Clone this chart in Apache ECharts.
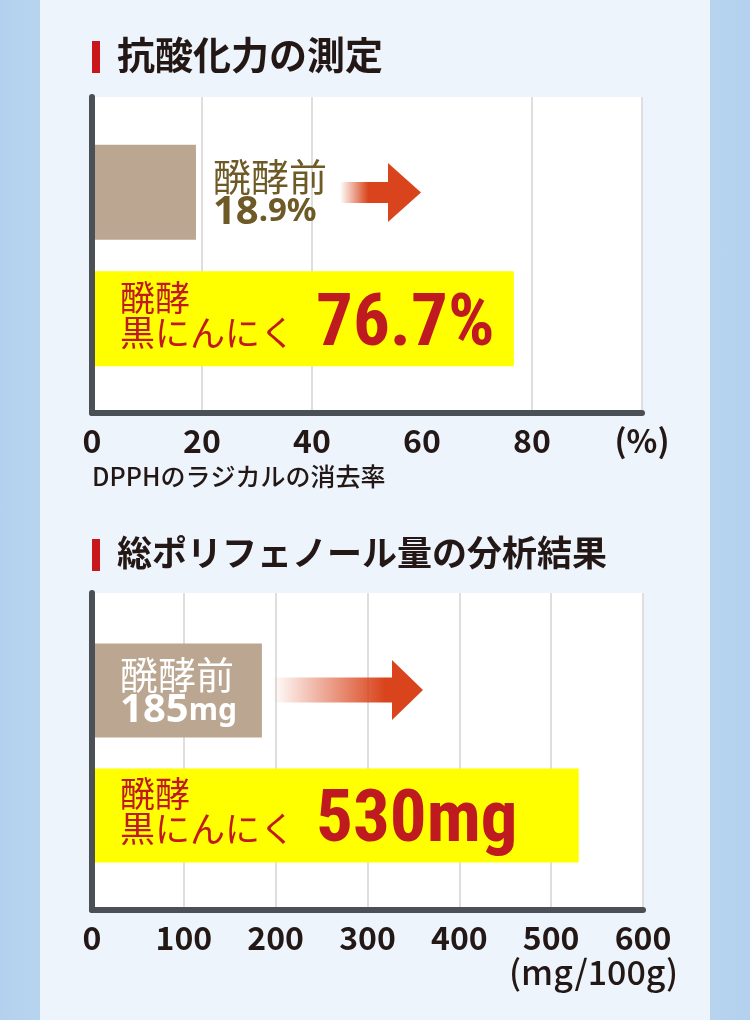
<!DOCTYPE html>
<html>
<head>
<meta charset="utf-8">
<script src="https://cdn.jsdelivr.net/npm/echarts@6/dist/echarts.min.js"></script>
<style>
  html, body { margin: 0; padding: 0; }
  body {
    background: linear-gradient(to right, #b3d1ee 0, #b7d4ef 40px, #eef4fb 40px, #eef4fb 710px, #b7d4ef 710px, #b3d1ee 750px);
  }
  #main { width: 750px; height: 1020px; }
</style>
</head>
<body>
<div id="main"></div>
<script>
// 抗酸化力 (DPPH radical scavenging, %)
var antiCats = ['醗酵前', '醗酵 黒にんにく'];
var antiValues = [18.9, 76.7];
var antiUnit = '%';
var antiLastTick = '(%)';

// 総ポリフェノール量 (mg/100g)
var polyCats = ['醗酵前', '醗酵 黒にんにく'];
var polyValues = [185, 530];
var polyUnit = 'mg';
var polyAxisName = '(mg/100g)';

var TAN = '#baa691', YELLOW = '#ffff00', OLIVE = '#6e5a26', RED = '#bf1a1f';
var AXIS = '#4a5056', GRID = '#dedede', INK = '#231815', ARROW = '#d9441c';
var CJK = '"Noto Sans CJK JP", sans-serif';
var NUM = '"Noto Sans", sans-serif';
var BIG = '"Liberation Sans Narrow", "Roboto Condensed", "DejaVu Sans Condensed", sans-serif';

var chart = echarts.init(document.getElementById('main'), null, { renderer: 'canvas' });

// background grid: white plot, split lines, tick labels (below the bars)
function frameX(grid, max, interval, lastTick, splitColors) {
    return {
        gridIndex: grid, type: 'value', min: 0, max: max, interval: interval,
        axisLine: { show: false },
        axisTick: { show: false },
        axisLabel: {
            color: INK, fontFamily: CJK, fontWeight: 'bold', fontSize: 32, margin: 12,
            formatter: function (v) { return (lastTick && v === max) ? lastTick : String(v); }
        },
        splitLine: { show: true, lineStyle: { color: splitColors, width: 2 } }
    };
}

// overlay grid: only the thick axis lines (above the bars)
function lineX(grid, max) {
    return {
        gridIndex: grid, type: 'value', min: 0, max: max, z: 5,
        axisLine: { show: true, lineStyle: { color: AXIS, width: 6 } },
        axisTick: { show: false }, axisLabel: { show: false }, splitLine: { show: false }
    };
}
function lineY(grid, visible) {
    return {
        gridIndex: grid, type: 'value', min: 0, max: 1, z: 5,
        axisLine: { show: visible, lineStyle: { color: AXIS, width: 6 } },
        axisTick: { show: false }, axisLabel: { show: false }, splitLine: { show: false }
    };
}

// label beside the small bar / inside it
function smallLabel(name, v, unit, inside) {
    var s = String(v), p = s.indexOf('.');
    var head = unit === '%' ? s.slice(0, p) : s;
    var tail = unit === '%' ? s.slice(p) + unit : unit;
    var c = inside ? '#fff' : OLIVE;
    return {
        show: true,
        position: inside ? 'insideLeft' : 'right',
        distance: inside ? 28 : 17,
        formatter: '{a|' + name + '}\n{n|' + head + '}{s|' + tail + '}',
        rich: {
            a: { fontFamily: CJK, fontSize: 38, color: c, lineHeight: 40 },
            n: { fontFamily: NUM, fontWeight: 'bold', fontSize: 40, color: c, lineHeight: 32 },
            s: { fontFamily: NUM, fontWeight: 'bold', fontSize: inside ? 30 : 33, color: c, lineHeight: 32, verticalAlign: 'bottom' }
        }
    };
}

function bigLabel(name, v, unit) {
    var parts = name.split(' ');
    return {
        show: true, position: 'insideLeft', distance: 28,
        formatter: '{a|' + parts[0] + '}\n{c|' + parts[1] + '}{b|' + v + unit + '}',
        rich: {
            a: { fontFamily: CJK, fontSize: 35, color: RED, lineHeight: 40, verticalAlign: 'bottom' },
            c: { fontFamily: CJK, fontSize: 35, color: RED, lineHeight: 46, verticalAlign: 'top' },
            b: { fontFamily: BIG, fontWeight: 'bold', fontSize: 73, color: RED, lineHeight: 48, verticalAlign: 'bottom', padding: [0, 0, 0, 21] }
        }
    };
}

function barData(cats, values, unit, inside) {
    return values.map(function (v, i) {
        return {
            value: v,
            itemStyle: { color: i === 0 ? TAN : YELLOW },
            label: i === 0 ? smallLabel(cats[i], v, unit, inside) : bigLabel(cats[i], v, unit)
        };
    });
}

function arrow(x0, xh, xt, yc, shaft, head, fade) {
    return {
        type: 'polygon', z: 10,
        shape: { points: [
            [x0, yc - shaft], [xh, yc - shaft], [xh, yc - head], [xt, yc],
            [xh, yc + head], [xh, yc + shaft], [x0, yc + shaft]
        ] },
        style: { fill: new echarts.graphic.LinearGradient(0, 0, 1, 0, [
            { offset: 0, color: 'rgba(217,68,28,0)' },
            { offset: fade, color: ARROW },
            { offset: 1, color: ARROW }
        ]) }
    };
}

var split1 = ['rgba(0,0,0,0)', GRID, GRID, 'rgba(0,0,0,0)', GRID, GRID];
var plot1 = { left: 92, top: 97, width: 550, height: 316 };
var plot2 = { left: 92, top: 593, width: 551, height: 317 };

var option = {
    backgroundColor: 'transparent',
    animation: false,
    title: [
        { text: '抗酸化力の測定', left: 117, top: 36, padding: 0,
          textStyle: { fontFamily: CJK, fontWeight: 'bold', fontSize: 38, color: INK } },
        { text: 'DPPHのラジカルの消去率', left: 92, top: 464, padding: 0,
          textStyle: { fontFamily: CJK, fontWeight: 500, fontSize: 25, color: INK } },
        { text: '総ポリフェノール量の分析結果', left: 117, top: 535, padding: 0,
          textStyle: { fontFamily: CJK, fontWeight: 'bold', fontSize: 35, color: INK } },
        { text: polyAxisName, right: 72, top: 955, padding: 0,
          textStyle: { fontFamily: CJK, fontWeight: 500, fontSize: 34, color: INK } }
    ],
    grid: [
        Object.assign({ show: true, backgroundColor: '#fff', borderWidth: 0 }, plot1),
        { left: 92, top: 129, width: 550, height: 253 },
        Object.assign({}, plot1),
        Object.assign({ show: true, backgroundColor: '#fff', borderWidth: 0 }, plot2),
        { left: 92, top: 628, width: 551, height: 250 },
        Object.assign({}, plot2)
    ],
    xAxis: [
        frameX(0, 100, 20, antiLastTick, split1),
        { gridIndex: 1, type: 'value', min: 0, max: 100, show: false },
        lineX(2, 100),
        frameX(3, 600, 100, null, GRID),
        { gridIndex: 4, type: 'value', min: 0, max: 600, show: false },
        lineX(5, 600)
    ],
    yAxis: [
        lineY(0, false),
        { gridIndex: 1, type: 'category', data: antiCats, inverse: true, show: false },
        lineY(2, true),
        lineY(3, false),
        { gridIndex: 4, type: 'category', data: polyCats, inverse: true, show: false },
        lineY(5, true)
    ],
    series: [
        { type: 'bar', xAxisIndex: 1, yAxisIndex: 1, barWidth: 95,
          data: barData(antiCats, antiValues, antiUnit, false) },
        { type: 'bar', xAxisIndex: 4, yAxisIndex: 4, barWidth: 94,
          data: barData(polyCats, polyValues, polyUnit, true) }
    ],
    graphic: [
        { type: 'rect', shape: { x: 92, y: 41, width: 8, height: 32 }, style: { fill: '#c9161d' } },
        { type: 'rect', shape: { x: 92, y: 539, width: 8, height: 32 }, style: { fill: '#c9161d' } },
        arrow(340, 388, 421, 192.5, 10.5, 29.5, 0.35),
        arrow(272, 392, 423, 690, 12.5, 30, 0.75)
    ]
};

chart.setOption(option);
</script>
</body>
</html>
